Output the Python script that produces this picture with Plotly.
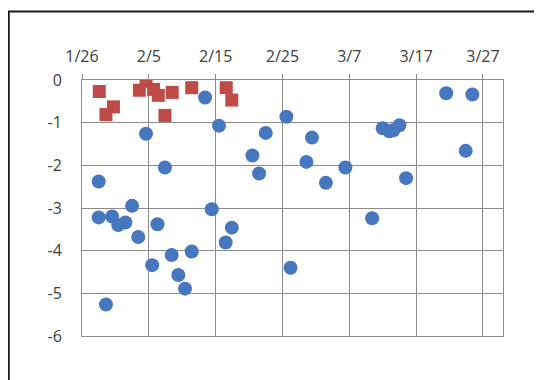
import plotly.graph_objects as go

# blue circles
blue_dates = [
    "2023-02-13 10:00", "2023-02-15 12:00", "2023-02-04 14:00", "2023-02-07 10:00",
    "2023-02-20 12:00", "2023-02-22 12:00", "2023-02-21 12:00", "2023-02-25 14:00",
    "2023-01-28 12:00", "2023-01-28 12:00", "2023-01-30 12:00", "2023-01-31 10:00",
    "2023-02-01 12:00", "2023-02-02 12:00", "2023-02-03 10:00", "2023-01-29 14:00",
    "2023-02-05 12:00", "2023-02-06 07:00", "2023-02-08 10:00", "2023-02-09 10:00",
    "2023-02-10 10:00", "2023-02-11 10:00", "2023-02-14 10:00", "2023-02-16 12:00",
    "2023-02-17 10:00", "2023-02-26 05:00", "2023-03-01 10:00", "2023-02-28 14:00",
    "2023-03-03 12:00", "2023-03-06 10:00", "2023-03-10 10:00", "2023-03-12 00:00",
    "2023-03-13 00:00", "2023-03-13 14:00", "2023-03-14 12:00", "2023-03-15 12:00",
    "2023-03-21 12:00", "2023-03-25 10:00", "2023-03-24 10:00",
]
blue_values = [
    -0.41, -1.07, -1.26, -2.05,
    -1.77, -1.24, -2.19, -0.86,
    -2.38, -3.22, -3.2, -3.40,
    -3.34, -2.95, -3.68, -5.26,
    -4.34, -3.38, -4.10, -4.57,
    -4.89, -4.02, -3.03, -3.81,
    -3.46, -4.40, -1.35, -1.92,
    -2.41, -2.05, -3.24, -1.13,
    -1.20, -1.18, -1.06, -2.30,
    -0.31, -0.34, -1.66,
]

# red squares
red_dates = [
    "2023-01-28 14:00", "2023-01-30 17:00", "2023-01-29 14:00", "2023-02-03 14:00",
    "2023-02-04 14:00", "2023-02-05 17:00", "2023-02-06 10:00", "2023-02-07 10:00",
    "2023-02-08 12:00", "2023-02-11 10:00", "2023-02-16 14:00", "2023-02-17 10:00",
]
red_values = [
    -0.27, -0.63, -0.81, -0.24,
    -0.03, -0.22, -0.36, -0.83,
    -0.29, -0.18, -0.18, -0.47,
]

y_ticks = [0, -1, -2, -3, -4, -5, -6]
y_labels = ["0", "-1", "-2", "-3", "-4", "-5", "-6"]

BLUE = "#4677BF"
RED = "#BE4B48"
GRID = "#8C8C8C"
TEXT = "#404040"

fig = go.Figure()
fig.add_trace(go.Scatter(x=blue_dates, y=blue_values, mode="markers",
                         marker=dict(symbol="circle", size=14, color=BLUE, line=dict(width=0)),
                         showlegend=False))
fig.add_trace(go.Scatter(x=red_dates, y=red_values, mode="markers",
                         marker=dict(symbol="square", size=13, color=RED, line=dict(width=0)),
                         showlegend=False))

# chart border (Excel style)
fig.add_shape(type="rect", xref="paper", yref="paper",
              x0=-0.174, x1=1.088, y0=-0.4, y1=1.268,
              line=dict(color="#1a1a1a", width=2), fillcolor="rgba(0,0,0,0)", layer="below")

fig.update_layout(
    width=542, height=380,
    margin=dict(l=74, r=47, t=72, b=52),
    paper_bgcolor="white", plot_bgcolor="white",
    font=dict(family="Open Sans", size=16, color=TEXT),
    xaxis=dict(
        type="date", side="top",
        range=["2023-01-26", "2023-03-30"],
        tick0="2023-01-26", dtick=864000000, tickformat="%-m/%-d",
        showgrid=True, gridcolor=GRID, gridwidth=1,
        ticks="outside", ticklen=5, tickcolor=GRID,
        showline=True, linecolor=GRID, mirror=True,
        zeroline=False, ticklabelstandoff=6,
    ),
    yaxis=dict(
        range=[-6, 0], tickvals=y_ticks, ticktext=y_labels,
        showgrid=True, gridcolor=GRID, gridwidth=1,
        showline=True, linecolor=GRID, mirror=True,
        zeroline=False, ticks="", ticklabelstandoff=16,
    ),
)

fig.write_html("out.html")
